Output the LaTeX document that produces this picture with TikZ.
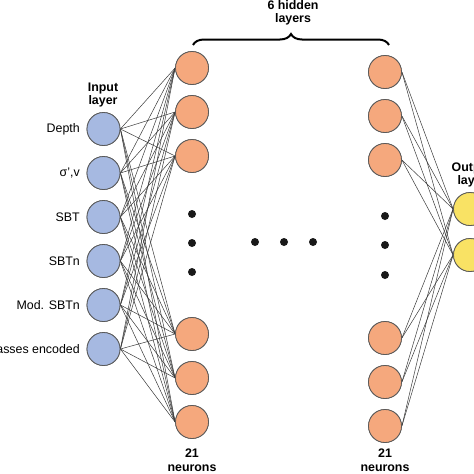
\documentclass[tikz,border=0pt]{standalone}
\usepackage{fontspec}
\setmainfont{Liberation Sans}
\usetikzlibrary{decorations.pathreplacing}
\definecolor{inblue}{HTML}{A6B9E1}
\definecolor{hidorange}{HTML}{F5A87D}
\definecolor{outyellow}{HTML}{F9E264}
\definecolor{edgegray}{HTML}{5A5A5A}
\definecolor{linkgray}{HTML}{3A3A3A}
\tikzset{
  neuron/.style={circle, draw=edgegray, line width=0.8pt, minimum size=33pt, inner sep=0pt},
  inneuron/.style={neuron, fill=inblue},
  hidneuron/.style={neuron, fill=hidorange},
  outneuron/.style={neuron, fill=outyellow},
  link/.style={draw=linkgray, line width=0.5pt},
  dotmark/.style={circle, fill=black!90, minimum size=8pt, inner sep=0pt},
  lbl/.style={font=\fontsize{12.4pt}{14pt}\selectfont, inner sep=0pt},
  title/.style={font=\fontsize{12.4pt}{13.5pt}\selectfont\bfseries, align=center, inner sep=0pt}
}
\begin{document}
\begin{tikzpicture}[x=1pt, y=-1pt]
\useasboundingbox (0,0) rectangle (474,474);
\clip (0,0) rectangle (474,474);
% input layer
\foreach \n/\y in {1/129,2/173,3/217,4/261,5/305,6/349}
  \node[inneuron] (i\n) at (103.5,\y) {};
% first hidden layer
\foreach \n/\y in {1/68,2/112,3/156,4/334,5/378,6/422}
  \node[hidneuron] (h\n) at (192,\y) {};
% last hidden layer
\foreach \n/\y in {1/72,2/116,3/160,4/338,5/382,6/426}
  \node[hidneuron] (k\n) at (385,\y) {};
% output layer
\node[outneuron] (o1) at (470,209) {};
\node[outneuron] (o2) at (470,255) {};
% connections
\begin{scope}[on background layer/.style={}]
\foreach \a in {1,...,6}
  \foreach \b in {1,...,6}
    \draw[link] (i\a.east) -- (h\b.west);
\foreach \a in {1,...,6}
  \foreach \b in {1,2}
    \draw[link] (k\a.east) -- (o\b.west);
\end{scope}
% redraw nodes on top
\foreach \n/\y in {1/129,2/173,3/217,4/261,5/305,6/349}
  \node[inneuron] at (i\n) {};
\foreach \n in {1,...,6} {
  \node[hidneuron] at (h\n) {};
  \node[hidneuron] at (k\n) {};
}
\node[outneuron] at (o1) {};
\node[outneuron] at (o2) {};
% dots
\node[dotmark] (d1) at (192,214) {};
\node[dotmark] (d2) at (192,243) {};
\node[dotmark] (d3) at (192,272) {};
\node[dotmark] (d4) at (255,242) {};
\node[dotmark] (d5) at (284,242) {};
\node[dotmark] (d6) at (313,242) {};
\node[dotmark] (d7) at (385,216) {};
\node[dotmark] (d8) at (385,245) {};
\node[dotmark] (d9) at (385,275) {};
% input labels
\node[lbl, anchor=east] (l1) at (80,129) {Depth};
\node[lbl, anchor=east] (l2) at (80,173) {σ’,v};
\node[lbl, anchor=east] (l3) at (80,217) {SBT};
\node[lbl, anchor=east] (l4) at (80,261) {SBTn};
\node[lbl, anchor=east] (l5) at (80,305) {Mod. SBTn};
\node[lbl, anchor=east] (l6) at (80,349) {Classes encoded};
% titles
\node[title] (tin) at (103,95) {Input\\layer};
\node[title] (tout) at (472,175) {Output\\layer};
\node[title] (thid) at (293,13) {6 hidden\\layers};
\node[title] (n1) at (192,460) {21\\neurons};
\node[title] (n2) at (385,460) {21\\neurons};
% brace
\coordinate (bl) at (193,45);
\coordinate (br) at (389,45);
\draw[line width=2pt, decorate, decoration={brace, amplitude=11pt}] (bl) -- (br);
\end{tikzpicture}
\end{document}
